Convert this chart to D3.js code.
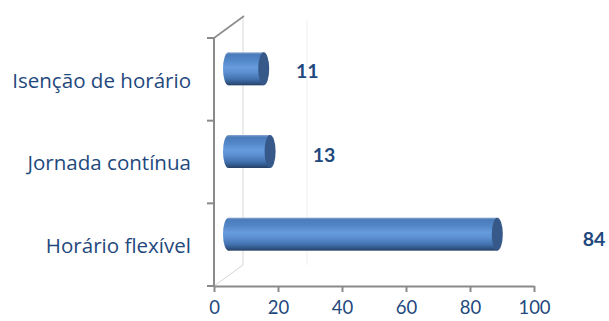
<!DOCTYPE html>
<html>
<head>
<meta charset="utf-8">
<script src="https://cdn.jsdelivr.net/npm/d3@7"></script>
<style>
  html, body { margin: 0; padding: 0; background: #fff; }
  svg { display: block; }
</style>
</head>
<body>
<svg id="chart" width="609" height="321"></svg>
<script>
// Categories (top to bottom) and their values
const categories = ["Isenção de horário", "Jornada contínua", "Horário flexível"];
const values = [11, 13, 84];
const tickValues = [0, 20, 40, 60, 80, 100];

const svg = d3.select("#chart");

// Front plane of the 3D box
const front = { left: 214, right: 534, top: 38, bottom: 286 };
// Depth offset of the back wall, bars sit half way in
const depth = { dx: 29, dy: -21 };
const mid = { dx: depth.dx / 2, dy: depth.dy / 2 };

const x = d3.scaleLinear().domain([0, 100]).range([front.left, front.right]);
const y = d3.scaleBand().domain(categories).range([front.top, front.bottom]);

const textBlue = "#1F497D";
const font = "Lato, 'Open Sans', sans-serif";
const catFont = "'Open Sans', Lato, sans-serif";

// Gradient for the cylinder body
const defs = svg.append("defs");
const grad = defs.append("linearGradient")
  .attr("id", "cyl").attr("x1", 0).attr("y1", 0).attr("x2", 0).attr("y2", 1);
[
  [0.00, "#8eaad0"],
  [0.06, "#4b7bbb"],
  [0.25, "#5287c8"],
  [0.45, "#669cde"],
  [0.60, "#5c90d2"],
  [0.80, "#4473b0"],
  [0.93, "#2f5585"],
  [1.00, "#263f63"]
].forEach(([o, c]) => grad.append("stop").attr("offset", o).attr("stop-color", c));

// Back wall: floor edge, back vertical line and gridline
const g = svg.append("g");
g.append("line")
  .attr("x1", x(0)).attr("y1", front.bottom)
  .attr("x2", x(0) + depth.dx).attr("y2", front.bottom + depth.dy)
  .attr("stroke", "#d6d6d6").attr("stroke-width", 1);
g.selectAll(".grid").data(tickValues.slice(0, 2)).join("line")
  .attr("class", "grid")
  .attr("x1", d => x(d) + depth.dx).attr("x2", d => x(d) + depth.dx)
  .attr("y1", d => front.top + depth.dy + (d === 0 ? 0 : 3))
  .attr("y2", front.bottom + depth.dy)
  .attr("stroke", (d, i) => i === 0 ? "#d9d9d9" : "#efefef")
  .attr("stroke-width", 1);

// Top edge of the category wall
g.append("line")
  .attr("x1", x(0)).attr("y1", front.top)
  .attr("x2", x(0) + depth.dx + 1).attr("y2", front.top + depth.dy - 1)
  .attr("stroke", "#8c8c8c").attr("stroke-width", 1.6);

// Category axis (front)
g.append("line")
  .attr("x1", x(0)).attr("x2", x(0))
  .attr("y1", front.top).attr("y2", front.bottom)
  .attr("stroke", "#8a8a8a").attr("stroke-width", 2);
const catTicks = [front.top, ...categories.map(c => y(c) + y.bandwidth())];
g.selectAll(".ctick").data(catTicks).join("line")
  .attr("class", "ctick")
  .attr("x1", x(0) - 7).attr("x2", x(0))
  .attr("y1", d => d).attr("y2", d => d)
  .attr("stroke", "#8a8a8a").attr("stroke-width", 2);

// Value axis (front)
const xAxis = d3.axisBottom(x).tickValues(tickValues).tickSize(6).tickSizeOuter(0).tickPadding(9);
const ax = g.append("g").attr("transform", `translate(0,${front.bottom})`).call(xAxis);
ax.select(".domain").attr("stroke", "#8a8a8a").attr("stroke-width", 2);
ax.selectAll(".tick line").attr("stroke", "#8a8a8a").attr("stroke-width", 2);
ax.selectAll(".tick text")
  .attr("fill", textBlue).attr("font-family", font).attr("font-size", 18.5);

// Category labels, sized so the longest one spans the left margin
const labelRight = 191, labelLeft = 12;
const clabels = g.selectAll(".clabel").data(categories).join("text")
  .attr("class", "clabel")
  .attr("x", labelRight)
  .attr("y", d => y(d) + y.bandwidth() / 2 + 1)
  .attr("dy", "0.35em")
  .attr("text-anchor", "end")
  .attr("fill", textBlue).attr("font-family", catFont).attr("font-size", 18)
  .text(d => d);
const widest = d3.max(clabels.nodes(), n => n.getComputedTextLength());
clabels.attr("font-size", 18 * (labelRight - labelLeft) / widest);

// Cylinders
const barH = 33;
const rx = 5.5;
const bars = g.selectAll(".bar").data(categories.map((c, i) => ({ c, v: values[i] }))).join("g")
  .attr("class", "bar");
bars.each(function (d) {
  const sel = d3.select(this);
  const cy = y(d.c) + y.bandwidth() / 2 + mid.dy;
  const x0 = x(0) + mid.dx;
  const x1 = x(d.v) + mid.dx;
  // rounded back end
  sel.append("ellipse")
    .attr("cx", x0).attr("cy", cy).attr("rx", rx).attr("ry", barH / 2)
    .attr("fill", "url(#cyl)");
  // body
  sel.append("rect")
    .attr("x", x0).attr("y", cy - barH / 2)
    .attr("width", x1 - x0).attr("height", barH)
    .attr("fill", "url(#cyl)");
  // end cap
  sel.append("ellipse")
    .attr("cx", x1).attr("cy", cy).attr("rx", rx).attr("ry", barH / 2)
    .attr("fill", "#36598a");
});

// Value labels, spread out in depth like the 3D label placement
const labelX = d3.scaleLinear().domain([0, 100]).range([264, 657]);
const labelNudge = [0, 9, 0];
g.selectAll(".vlabel").data(values).join("text")
  .attr("class", "vlabel")
  .attr("x", (d, i) => labelX(d) + labelNudge[i])
  .attr("y", (d, i) => y(categories[i]) + y.bandwidth() / 2 + mid.dy + 2 + i * 1.5)
  .attr("dy", "0.35em")
  .attr("text-anchor", "middle")
  .attr("fill", textBlue).attr("font-family", font).attr("font-weight", "bold").attr("font-size", 19.5)
  .text(d => d);
</script>
</body>
</html>
